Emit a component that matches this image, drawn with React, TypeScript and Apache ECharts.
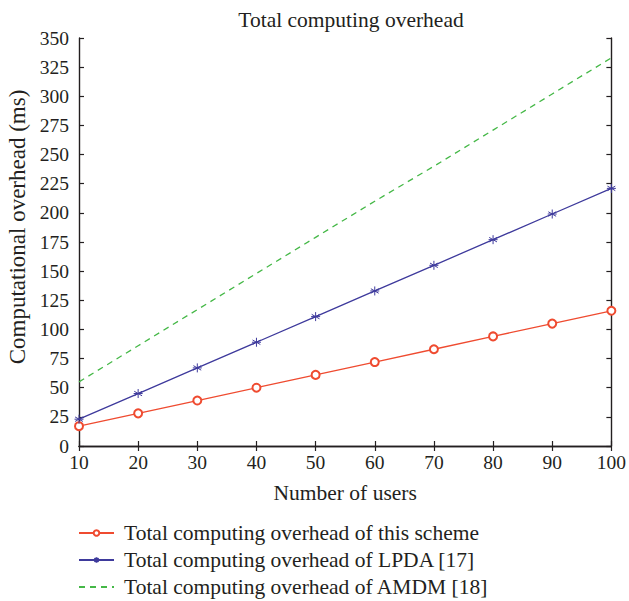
import React, { useEffect, useRef } from "react";
import * as echarts from "echarts";

const users = [10, 20, 30, 40, 50, 60, 70, 80, 90, 100];
const thisScheme = [17, 28, 39, 50, 61, 72, 83, 94, 105, 116];
const lpda = [23, 45, 67, 89, 111, 133, 155, 177, 199, 221];
const amdm = [55, 86, 117, 148, 179, 210, 240, 271, 302, 333];
const seriesNames = [
  "Total computing overhead of this scheme",
  "Total computing overhead of LPDA [17]",
  "Total computing overhead of AMDM [18]",
];
const yAxisTitle = "Computational overhead (ms)";

const FONT = "Liberation Serif";
const TXT = "#231f20";
const RED = "#ef4b30";
const BLUE = "#3e3a9c";
const GREEN = "#45b847";
const asterisk =
  "path://M0,-5L0,5M-4.33,-2.5L4.33,2.5M-4.33,2.5L4.33,-2.5M-5,0L5,0";

export default function App() {
  const ref = useRef<HTMLDivElement>(null);
  useEffect(() => {
    if (!ref.current) return;
    const chart = echarts.init(ref.current, undefined, { renderer: "svg" });
    const pair = (ys: number[]) => users.map((x, i) => [x, ys[i]]);
    const axisLineStyle = { lineStyle: { color: TXT, width: 1.4 } };
    const tick = { inside: true, length: 5, lineStyle: { color: TXT, width: 1.2 } };
    chart.setOption({
      animation: false,
      backgroundColor: "#fff",
      textStyle: { fontFamily: FONT, color: TXT },
      title: {
        text: "Total computing overhead",
        left: 346,
        textAlign: "center",
        top: 4,
        textStyle: { fontFamily: FONT, fontSize: 21.5, fontWeight: "normal", color: TXT },
      },
      grid: { left: 79, right: 17, top: 38, bottom: 155, containLabel: false },
      legend: {
        orient: "vertical",
        left: 78,
        top: 522,
        height: 120,
        padding: 0,
        itemGap: 5,
        itemWidth: 35,
        itemHeight: 7,
        textStyle: { fontFamily: FONT, fontSize: 21.5, color: TXT, padding: [0, 0, 0, 5] },
        data: [
          { name: seriesNames[0] },
          { name: seriesNames[1] },
          { name: seriesNames[2], itemStyle: { opacity: 0 } },
        ],
      },
      graphic: [
        {
          type: "text",
          x: 17,
          y: 227,
          rotation: Math.PI / 2,
          style: {
            text: yAxisTitle,
            fontFamily: FONT,
            fontSize: 23,
            fill: TXT,
            textAlign: "center",
            textVerticalAlign: "middle",
          },
        },
      ],
      xAxis: [
        {
          type: "value",
          min: 10,
          max: 100,
          interval: 10,
          name: "Number of users",
          nameLocation: "middle",
          nameGap: 36,
          nameTextStyle: { fontFamily: FONT, fontSize: 21.5, color: TXT },
          axisLine: axisLineStyle,
          axisTick: tick,
          axisLabel: { fontFamily: FONT, fontSize: 19.5, color: TXT, margin: 6 },
          splitLine: { show: false },
        },
        {
          type: "value",
          position: "top",
          min: 10,
          max: 100,
          interval: 10,
          axisLine: axisLineStyle,
          axisTick: tick,
          axisLabel: { show: false },
          splitLine: { show: false },
        },
      ],
      yAxis: [
        {
          type: "value",
          min: 0,
          max: 350,
          interval: 25,
          axisLine: axisLineStyle,
          axisTick: tick,
          axisLabel: { fontFamily: FONT, fontSize: 19.5, color: TXT, margin: 10 },
          splitLine: { show: false },
        },
        {
          type: "value",
          position: "right",
          min: 0,
          max: 350,
          interval: 25,
          axisLine: axisLineStyle,
          axisTick: tick,
          axisLabel: { show: false },
          splitLine: { show: false },
        },
      ],
      series: [
        {
          name: seriesNames[0],
          type: "line",
          data: pair(thisScheme),
          symbol: "emptyCircle",
          symbolSize: 8,
          lineStyle: { color: RED, width: 1.3 },
          itemStyle: { color: RED, borderWidth: 1 },
        },
        {
          name: seriesNames[1],
          type: "line",
          data: pair(lpda),
          symbol: asterisk,
          symbolSize: 9,
          lineStyle: { color: BLUE, width: 1.3 },
          itemStyle: { color: BLUE, borderColor: BLUE, borderWidth: 1 },
        },
        {
          name: seriesNames[2],
          type: "line",
          data: pair(amdm),
          symbol: "none",
          lineStyle: { color: GREEN, width: 1.3, type: [6, 5] },
          itemStyle: { color: GREEN },
        },
      ],
    });
    return () => chart.dispose();
  }, []);
  return (
    <div
      ref={ref}
      style={{ position: "absolute", left: 0, top: 0, width: 629, height: 601 }}
    />
  );
}
